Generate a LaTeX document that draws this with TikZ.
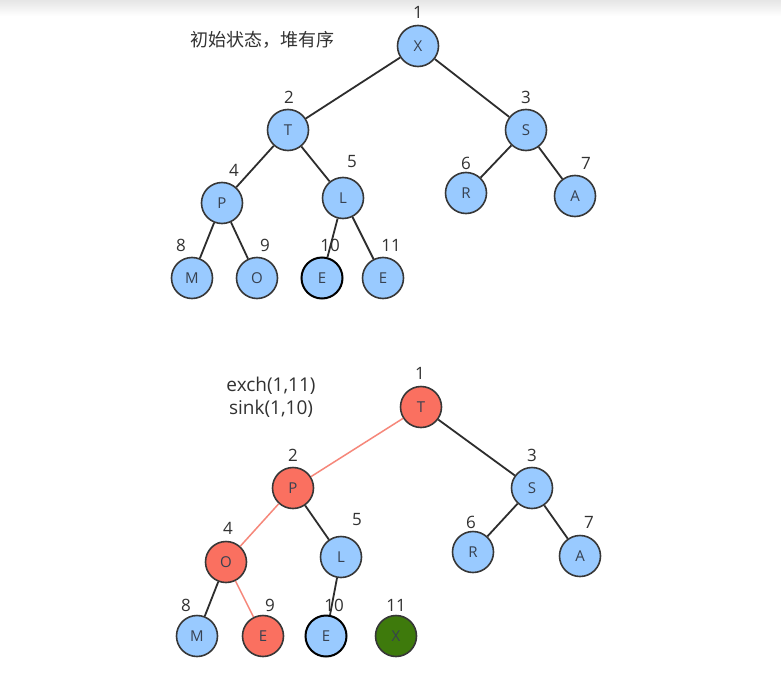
\documentclass[tikz,border=0pt]{standalone}
\usepackage{fontspec}
\setmainfont{Open Sans}
\newfontfamily\cjk{Noto Sans CJK SC}
\definecolor{nodeblue}{RGB}{153,202,255}
\definecolor{nodered}{RGB}{250,112,96}
\definecolor{nodegreen}{RGB}{62,122,12}
\definecolor{rimgray}{RGB}{55,55,55}
\definecolor{edgegray}{RGB}{45,45,45}
\definecolor{edgered}{RGB}{246,135,122}
\definecolor{lettergray}{RGB}{55,65,80}
\definecolor{numgray}{RGB}{50,50,50}
\begin{document}
\begin{tikzpicture}[x=1pt,y=-1pt,
  vertex/.style={circle, draw=rimgray, line width=1.6pt, minimum size=41pt,
    inner sep=0pt, font=\fontsize{15}{15}\selectfont, text=lettergray},
  bnode/.style={vertex, fill=nodeblue},
  rnode/.style={vertex, fill=nodered},
  gnode/.style={vertex, fill=nodegreen},
  darkrim/.style={draw=black, line width=2pt},
  idx/.style={font=\fontsize{17}{17}\selectfont, text=numgray, inner sep=0pt},
  edge/.style={draw=edgegray, line width=1.8pt},
  redge/.style={draw=edgered, line width=1.5pt},
  caption/.style={font=\fontsize{19}{23}\selectfont, text=numgray, align=center, inner sep=0pt}]
\useasboundingbox (0,0) rectangle (781,677);
\fill[white] (0,0) rectangle (781,677);
\shade[top color=black!10, bottom color=white] (0,0) rectangle (781,16);

% ---------- heap in order ----------
\node[caption, font=\cjk\fontsize{18}{18}\selectfont] (cap1) at (262,40) {初始状态，堆有序};

\node[bnode] (a1) at (418,46) {X};
\node[bnode] (a2) at (288,130) {T};
\node[bnode] (a3) at (526,130) {S};
\node[bnode] (a4) at (222,203) {P};
\node[bnode] (a5) at (343,198) {L};
\node[bnode] (a6) at (466,193) {R};
\node[bnode] (a7) at (575,196) {A};
\node[bnode] (a8) at (192,278) {M};
\node[bnode] (a9) at (257,278) {O};
\node[bnode,darkrim] (a10) at (322,278) {E};
\node[bnode] (a11) at (383,278) {E};

\node[idx] (na1) at (418,12) {1};
\node[idx] (na2) at (289,97) {2};
\node[idx] (na3) at (526,97) {3};
\node[idx] (na4) at (234,170) {4};
\node[idx] (na5) at (352,162) {5};
\node[idx] (na6) at (466,163) {6};
\node[idx] (na7) at (586,163) {7};
\node[idx] (na8) at (181,245) {8};
\node[idx] (na9) at (265,245) {9};
\node[idx] (na10) at (330,245) {10};
\node[idx] (na11) at (391,245) {11};

\draw[edge] (a1) -- (a2);
\draw[edge] (a1) -- (a3);
\draw[edge] (a2) -- (a4);
\draw[edge] (a2) -- (a5);
\draw[edge] (a3) -- (a6);
\draw[edge] (a3) -- (a7);
\draw[edge] (a4) -- (a8);
\draw[edge] (a4) -- (a9);
\draw[edge] (a5) -- (a10);
\draw[edge] (a5) -- (a11);

% ---------- after exch and sink ----------
\node[caption] (cap2) at (271,397) {exch(1,11)\\sink(1,10)};

\node[rnode] (b1) at (421,407) {T};
\node[rnode] (b2) at (293,488) {P};
\node[bnode] (b3) at (532,488) {S};
\node[rnode] (b4) at (226,562) {O};
\node[bnode] (b5) at (341,557) {L};
\node[bnode] (b6) at (473,552) {R};
\node[bnode] (b7) at (580,556) {A};
\node[bnode] (b8) at (197,636) {M};
\node[rnode] (b9) at (263,636) {E};
\node[bnode,darkrim] (b10) at (326,636) {E};
\node[gnode] (b11) at (396,636) {X};

\node[idx] (nb1) at (420,373) {1};
\node[idx] (nb2) at (293,455) {2};
\node[idx] (nb3) at (532,455) {3};
\node[idx] (nb4) at (228,528) {4};
\node[idx] (nb5) at (357,520) {5};
\node[idx] (nb6) at (471,522) {6};
\node[idx] (nb7) at (589,522) {7};
\node[idx] (nb8) at (186,605) {8};
\node[idx] (nb9) at (270,605) {9};
\node[idx] (nb10) at (334,605) {10};
\node[idx] (nb11) at (396,605) {11};

\draw[redge] (b1) -- (b2);
\draw[edge] (b1) -- (b3);
\draw[redge] (b2) -- (b4);
\draw[edge] (b2) -- (b5);
\draw[edge] (b3) -- (b6);
\draw[edge] (b3) -- (b7);
\draw[edge] (b4) -- (b8);
\draw[redge] (b4) -- (b9);
\draw[edge] (b5) -- (b10);
\end{tikzpicture}
\end{document}
